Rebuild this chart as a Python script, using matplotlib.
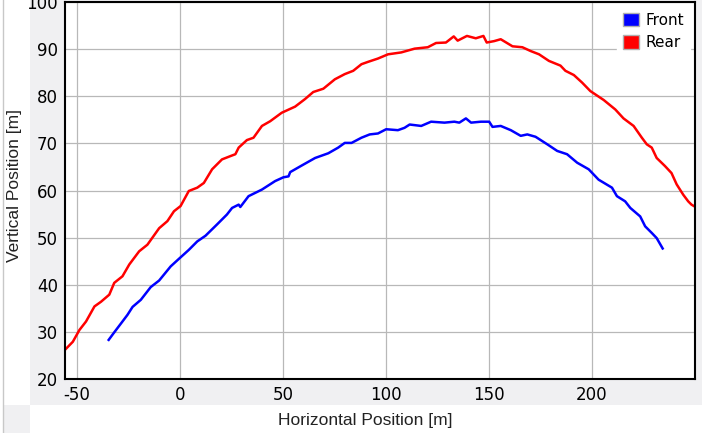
import matplotlib
matplotlib.use('Agg')
from matplotlib import pyplot as plt
from matplotlib.patches import Patch, Rectangle

plt.rcParams['axes.unicode_minus'] = False

rear_x = [-55.8, -52.0, -48.8, -45.6, -41.5, -38.3, -34.3, -31.9, -27.9, -24.6,
          -19.8, -15.8, -10.1, -6.1, -2.9, 0.3, 4.3, 8.4, 11.6, 15.6,
          20.4, 24.5, 26.9, 28.5, 32.5, 35.7, 39.8, 43.8, 49.4, 55.9,
          60.7, 64.7, 69.6, 75.2, 80.0, 84.1, 88.1, 91.3, 96.1, 101.0,
          107.4, 113.9, 120.3, 124.3, 129.1, 132.9, 134.8, 139.3, 143.6, 147.3,
          148.9, 152.5, 155.7, 161.4, 166.2, 170.2, 174.3, 179.1, 184.7, 187.1,
          191.2, 195.2, 199.2, 205.7, 211.3, 215.3, 220.2, 224.2, 226.6, 229.0,
          231.4, 235.4, 238.6, 241.1, 244.3, 246.7, 248.3, 251.0]
rear_y = [26.2, 27.9, 30.4, 32.2, 35.4, 36.4, 37.9, 40.4, 41.8, 44.3,
          47.1, 48.5, 52.0, 53.5, 55.6, 56.7, 59.9, 60.6, 61.6, 64.5,
          66.6, 67.3, 67.7, 69.1, 70.7, 71.2, 73.7, 74.7, 76.5, 77.8,
          79.4, 80.9, 81.6, 83.6, 84.7, 85.4, 86.8, 87.3, 88.0, 88.9,
          89.3, 90.1, 90.4, 91.3, 91.4, 92.7, 91.8, 92.8, 92.3, 92.8,
          91.4, 91.7, 92.1, 90.6, 90.4, 89.6, 88.9, 87.5, 86.5, 85.4,
          84.5, 82.9, 81.1, 79.2, 77.2, 75.3, 73.7, 71.2, 69.8, 69.1,
          66.9, 65.2, 63.7, 61.3, 59.1, 57.7, 57.0, 56.3]

front_x = [-34.6, -31.9, -28.6, -25.5, -23.0, -19.0, -14.2, -10.1, -4.5, -0.5,
           4.3, 8.4, 12.4, 18.0, 22.8, 25.3, 28.5, 29.3, 33.3, 39.8,
           46.2, 50.2, 52.7, 53.5, 59.1, 65.6, 72.0, 76.8, 80.0, 83.3,
           88.1, 92.1, 96.1, 100.1, 105.8, 109.0, 111.5, 117.1, 121.9, 128.4,
           133.2, 135.6, 138.8, 141.3, 146.1, 150.1, 151.7, 155.7, 160.6, 165.4,
           168.6, 172.6, 178.3, 183.1, 187.9, 192.8, 198.4, 203.2, 209.7, 212.1,
           216.1, 218.6, 223.4, 225.8, 229.0, 231.4, 234.3]
front_y = [28.3, 29.9, 31.8, 33.6, 35.3, 36.8, 39.5, 40.9, 43.9, 45.5,
           47.4, 49.2, 50.4, 52.8, 54.9, 56.3, 57.0, 56.5, 58.8, 60.2,
           62.0, 62.8, 63.0, 63.9, 65.3, 66.9, 67.9, 69.1, 70.1, 70.1,
           71.2, 71.9, 72.1, 73.0, 72.8, 73.3, 74.0, 73.7, 74.6, 74.4,
           74.6, 74.4, 75.3, 74.4, 74.6, 74.6, 73.5, 73.7, 72.8, 71.6,
           71.9, 71.4, 69.8, 68.4, 67.7, 65.9, 64.5, 62.3, 60.6, 58.8,
           57.7, 56.3, 54.5, 52.4, 51.0, 49.9, 47.7]

x_ticks = [-50, 0, 50, 100, 150, 200]
y_ticks = [20, 30, 40, 50, 60, 70, 80, 90, 100]

fig = plt.figure(figsize=(7.02, 4.33), dpi=100, facecolor='white')

# grey panel behind the tick labels, plus the small bottom-left corner
gray = '#f0f0f2'
fig.patches.append(Rectangle((30/702, 28/433), 1, 1, transform=fig.transFigure,
                             facecolor=gray, edgecolor='none', zorder=-2))
fig.patches.append(Rectangle((3/702, 0), 27/702, 28/433, transform=fig.transFigure,
                             facecolor=gray, edgecolor='none', zorder=-2))
fig.lines.append(plt.Line2D([2.5/702, 2.5/702], [0, 1], transform=fig.transFigure,
                            color='#c8c8c8', lw=1, zorder=-1))

ax = fig.add_axes([65/702, 54/433, 630/702, 377/433])
ax.set_facecolor('white')
ax.plot(front_x, front_y, color='#0000ff', lw=1.8, label='Front')
ax.plot(rear_x, rear_y, color='#ff0000', lw=1.8, label='Rear')

ax.set_xlim(-55.8, 250)
ax.set_ylim(20, 100)
ax.set_xticks(x_ticks)
ax.set_yticks(y_ticks)
ax.grid(True, color='#b8b8b8', lw=0.9)
ax.set_axisbelow(True)
ax.tick_params(length=0, labelsize=12, pad=5)
for s in ax.spines.values():
    s.set_linewidth(1.5)
    s.set_color('black')

handles = [Patch(facecolor='#0000ff', edgecolor='#b0b0b0', label='Front'),
           Patch(facecolor='#ff0000', edgecolor='#b0b0b0', label='Rear')]
leg = ax.legend(handles=handles, loc='upper right', frameon=True, fancybox=False,
                fontsize=11, handlelength=1.05, handleheight=1.0,
                handletextpad=0.45, borderaxespad=0.3, labelspacing=0.5,
                borderpad=0.4)
leg.get_frame().set_edgecolor('white')
leg.get_frame().set_alpha(1)

fig.text(365/702, 1 - 420/433, 'Horizontal Position [m]', ha='center', va='center',
         fontsize=12.5, family='Liberation Sans', color='#222222')
fig.text(15/702, 1 - 186/433, 'Vertical Position [m]', ha='center', va='center',
         rotation=90, fontsize=12.5, family='Liberation Sans', color='#222222')

fig.savefig('out.png', dpi=100, facecolor='white')
